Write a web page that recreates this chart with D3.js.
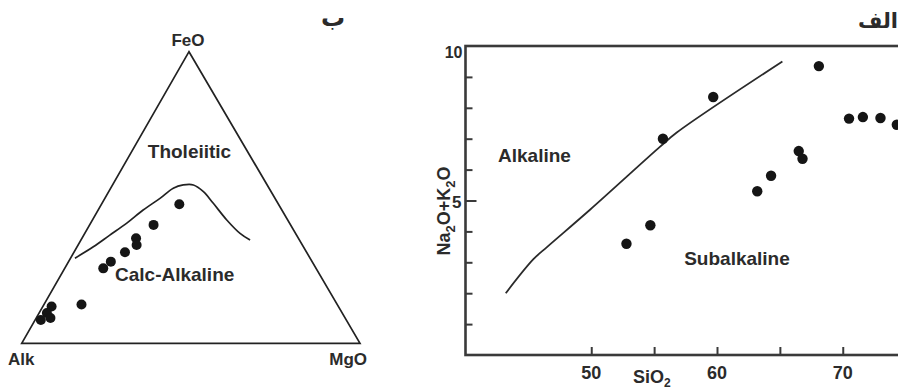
<!DOCTYPE html>
<head>
    <script src="https://d3js.org/d3.v7.min.js"></script>
    <style>
        body { margin: 0; background: #fff; }
        text { font-family: "Liberation Sans", Arial, sans-serif; font-weight: bold; fill: #2b2b2b; }
    </style>
</head>

<body>
    <div id="chart"></div>
</body>

<script>
    const width = 898,
        height = 390;

    // AFM diagram (ternary), values in % : [Alk, FeO, MgO]
    const afmBoundary = [
        [69.5, 29.2, 1.3], [62.1, 33.1, 4.8], [55.2, 37.1, 7.7], [48.1, 41.2, 10.7],
        [41.0, 45.7, 13.3], [34.0, 49.7, 16.3], [28.3, 53.2, 18.5], [24.8, 54.3, 20.9],
        [21.8, 54.3, 23.9], [20.0, 52.0, 28.0], [19.1, 48.0, 32.9], [18.0, 42.3, 39.7],
        [16.4, 37.7, 45.9], [14.6, 35.4, 50.0]
    ];
    const afmSamples = [
        [29.3, 47.7, 23.0], [40.5, 40.6, 18.9], [48.0, 36.0, 16.0], [49.0, 33.7, 17.3],
        [53.7, 31.2, 15.1], [59.5, 28.0, 12.5], [62.9, 25.7, 11.4], [75.6, 13.3, 11.1],
        [84.8, 12.6, 2.6], [87.3, 10.4, 2.3], [87.1, 8.7, 4.2], [90.3, 8.0, 1.7]
    ];

    // TAS diagram
    const tasLineSiO2 = [43.2, 45.4, 46.5, 49.9, 55.5, 56.8, 65.2];
    const tasLineAlk  = [2.0, 3.1, 3.5, 4.7, 6.75, 7.2, 9.5];
    const sampleSiO2 = [52.8, 54.7, 55.7, 59.7, 63.2, 64.3, 66.5, 66.8, 68.1, 70.5, 71.6, 73.0, 74.3];
    const sampleAlk  = [3.6, 4.2, 7.0, 8.35, 5.3, 5.8, 6.6, 6.35, 9.35, 7.65, 7.7, 7.67, 7.45];
    const yMinorTicks = [1, 2, 3, 4, 6, 7, 8, 9];
    const xTicks = [50, 55, 60, 65, 70];
    const xTickLabels = [50, 60, 70];

    const svg = d3.select("#chart").append("svg")
        .attr("width", width)
        .attr("height", height);

    /* ---------- ternary ---------- */
    const tri = { left: 21.7, base: 343.3, side: 338.3, top: 51.7 };
    const fy = d3.scaleLinear().domain([0, 100]).range([tri.base, tri.top]);
    const mx = d3.scaleLinear().domain([0, 100]).range([0, tri.side]);
    const fx = d3.scaleLinear().domain([0, 100]).range([0, 167.3]);
    const proj = d => [tri.left + mx(d[2]) + fx(d[1]), fy(d[1])];

    const g1 = svg.append("g");

    g1.append("path")
        .attr("d", d3.line()([proj([100, 0, 0]), proj([0, 100, 0]), proj([0, 0, 100])]) + "Z")
        .attr("fill", "none")
        .attr("stroke", "#222")
        .attr("stroke-width", 1.7);

    g1.append("path")
        .attr("d", d3.line().curve(d3.curveCatmullRom)(afmBoundary.map(proj)))
        .attr("fill", "none")
        .attr("stroke", "#222")
        .attr("stroke-width", 1.7);

    g1.selectAll("circle").data(afmSamples)
        .join("circle")
        .attr("cx", d => proj(d)[0])
        .attr("cy", d => proj(d)[1])
        .attr("r", 5)
        .attr("fill", "#151515");

    g1.append("text").attr("x", 188).attr("y", 46).attr("text-anchor", "middle")
        .style("font-size", "17px").text("FeO");
    g1.append("text").attr("x", 8).attr("y", 365)
        .style("font-size", "17px").text("Alk");
    g1.append("text").attr("x", 367).attr("y", 365).attr("text-anchor", "end")
        .style("font-size", "17px").text("MgO");
    g1.append("text").attr("x", 189.5).attr("y", 158).attr("text-anchor", "middle")
        .style("font-size", "19px").text("Tholeiitic");
    g1.append("text").attr("x", 115).attr("y", 281)
        .style("font-size", "19px").text("Calc-Alkaline");
    g1.append("text").attr("x", 333).attr("y", 26).attr("text-anchor", "middle")
        .style("font-family", "DejaVu Sans").style("font-size", "24px").text("ب");

    /* ---------- TAS ---------- */
    const x = d3.scaleLinear().domain([40, 80]).range([465.5, 968.5]);
    const y = d3.scaleLinear().domain([0, 10]).range([355, 46]);

    const g2 = svg.append("g");

    g2.append("rect")
        .attr("x", x(40)).attr("y", y(10))
        .attr("width", x(80) - x(40)).attr("height", y(0) - y(10))
        .attr("fill", "none")
        .attr("stroke", "#3a3a3a")
        .attr("stroke-width", 2.6);

    g2.append("g")
        .attr("transform", `translate(${x(40)},0)`)
        .call(d3.axisLeft(y).tickValues(yMinorTicks).tickSize(-7).tickFormat(""))
        .call(a => a.select(".domain").remove())
        .call(a => a.selectAll("line").attr("stroke", "#3a3a3a").attr("stroke-width", 2));

    g2.append("g")
        .attr("transform", `translate(${x(40)},0)`)
        .call(d3.axisLeft(y).tickValues([5]).tickSize(-11).tickFormat(""))
        .call(a => a.select(".domain").remove())
        .call(a => a.selectAll("line").attr("stroke", "#3a3a3a").attr("stroke-width", 2));

    g2.append("g")
        .attr("transform", `translate(0,${y(0)})`)
        .call(d3.axisBottom(x).tickValues(xTicks).tickSize(-8).tickFormat(""))
        .call(a => a.select(".domain").remove())
        .call(a => a.selectAll("line").attr("stroke", "#3a3a3a").attr("stroke-width", 2));

    g2.selectAll("text.xl").data(xTickLabels)
        .join("text").attr("class", "xl")
        .attr("x", d => x(d)).attr("y", 379)
        .attr("text-anchor", "middle")
        .style("font-size", "18px")
        .text(d => d);

    g2.append("text").attr("x", x(40) - 3).attr("y", y(10) + 12).attr("text-anchor", "end")
        .style("font-size", "16px").text("10");
    g2.append("text").attr("x", x(40) - 4).attr("y", y(5) + 7).attr("text-anchor", "end")
        .style("font-size", "17px").text("5");

    g2.append("path")
        .attr("d", d3.line().curve(d3.curveCatmullRom)
            .x((d, i) => x(tasLineSiO2[i]))
            .y(d => y(d))(tasLineAlk))
        .attr("fill", "none")
        .attr("stroke", "#2a2a2a")
        .attr("stroke-width", 1.8);

    g2.selectAll("circle").data(sampleSiO2)
        .join("circle")
        .attr("cx", d => x(d))
        .attr("cy", (d, i) => y(sampleAlk[i]))
        .attr("r", 5.2)
        .attr("fill", "#151515");

    g2.append("text").attr("x", 498).attr("y", 162)
        .style("font-size", "19px").text("Alkaline");
    g2.append("text").attr("x", 737).attr("y", 265).attr("text-anchor", "middle")
        .style("font-size", "19px").text("Subalkaline");

    const xl = g2.append("text").attr("x", 633).attr("y", 383).style("font-size", "18px");
    xl.append("tspan").text("SiO");
    xl.append("tspan").attr("dy", 4).style("font-size", "12px").text("2");

    const yl = g2.append("text")
        .attr("transform", "translate(450,211) rotate(-90)")
        .attr("text-anchor", "middle")
        .style("font-size", "18px");
    yl.append("tspan").text("Na");
    yl.append("tspan").attr("dy", 5).style("font-size", "13px").text("2");
    yl.append("tspan").attr("dy", -5).text("O+K");
    yl.append("tspan").attr("dy", 5).style("font-size", "13px").text("2");
    yl.append("tspan").attr("dy", -5).text("O");

    g2.append("text").attr("x", 898).attr("y", 28).attr("text-anchor", "end")
        .style("font-family", "DejaVu Sans").style("font-size", "21px").text("الف");
</script>
</html>
